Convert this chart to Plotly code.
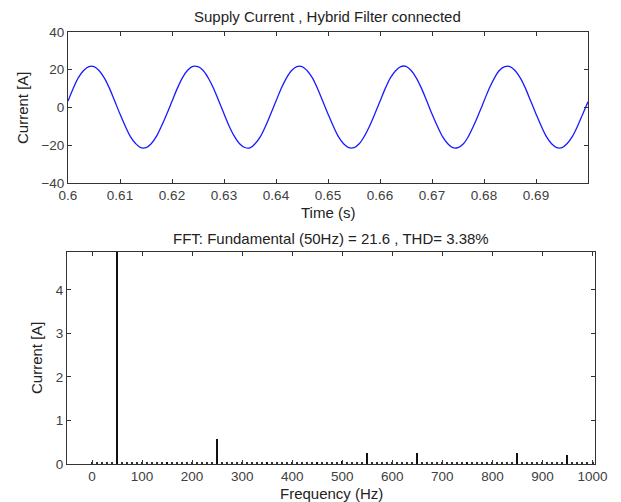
"""Supply current waveform and its FFT spectrum (hybrid filter connected)."""

import plotly.graph_objects as go
from plotly.subplots import make_subplots

# --- waveform, sampled every 1 ms from 0.600 s to 0.700 s ---
time_s = [round(0.6 + i * 0.001, 3) for i in range(101)]
current_a = [
    3.4, 10.1, 15.8, 19.6, 21.7, 21.7, 19.5, 15.6, 10.0, 3.3,
    -3.5, -9.8, -15.4, -19.1, -21.3, -21.3, -19.2, -15.3, -9.7, -3.4,
    3.3, 10.0, 15.7, 19.7, 21.8, 21.6, 19.6, 15.5, 10.1, 3.4,
    -3.3, -9.9, -15.3, -19.2, -21.2, -21.4, -19.1, -15.4, -9.8, -3.3,
    3.4, 10.1, 15.6, 19.6, 21.7, 21.7, 19.5, 15.7, 9.9, 3.3,
    -3.4, -9.8, -15.4, -19.2, -21.3, -21.3, -19.2, -15.2, -9.8, -3.4,
    3.3, 10.0, 15.7, 19.5, 21.7, 21.8, 19.6, 15.6, 10.0, 3.4,
    -3.5, -9.7, -15.3, -19.1, -21.3, -21.2, -19.3, -15.3, -9.7, -3.3,
    3.4, 10.1, 15.6, 19.7, 21.6, 21.7, 19.5, 15.6, 10.0, 3.3,
    -3.4, -9.8, -15.4, -19.2, -21.3, -21.3, -19.1, -15.3, -9.8, -3.4,
    3.0,
]

# --- spectrum ---
harmonic_hz = [50, 150, 250, 350, 450, 500, 550, 650, 750, 850, 950]
harmonic_amp = [21.6, 0.04, 0.57, 0.04, 0.04, 0.07, 0.26, 0.26, 0.04, 0.26, 0.21]
floor_hz = [f for f in range(0, 1001, 10) if f not in harmonic_hz]
floor_amp = 0.03

time_ticks = [0.6, 0.61, 0.62, 0.63, 0.64, 0.65, 0.66, 0.67, 0.68, 0.69]
time_tick_text = ['0.6', '0.61', '0.62', '0.63', '0.64', '0.65', '0.66', '0.67', '0.68', '0.69']
freq_ticks = [0, 100, 200, 300, 400, 500, 600, 700, 800, 900, 1000]

FONT = 'Liberation Sans, Arial, sans-serif'
OFF = 8  # page body margin
W, H = 621 - OFF, 502 - OFF


def px_x(p):
    return (p - OFF) / W


def px_y(p):
    return 1 - (p - OFF) / H


fig = make_subplots(rows=2, cols=1)

fig.add_trace(go.Scatter(
    x=time_s, y=current_a, mode='lines',
    line=dict(color='#1a1aff', width=1.3, shape='spline', smoothing=1.0),
    showlegend=False,
), row=1, col=1)

fig.add_trace(go.Bar(
    x=harmonic_hz, y=harmonic_amp, width=4,
    marker=dict(color='#111111', line=dict(width=0)),
    showlegend=False,
), row=2, col=1)
fig.add_trace(go.Bar(
    x=floor_hz, y=[floor_amp] * len(floor_hz), width=4,
    marker=dict(color='#333333', line=dict(width=0)),
    showlegend=False,
), row=2, col=1)

axis_style = dict(
    showline=True, mirror='ticks', linecolor='#333333', linewidth=1,
    ticks='inside', ticklen=4, tickcolor='#333333',
    showgrid=False, zeroline=False, automargin=False,
    tickfont=dict(family=FONT, size=13.5, color='#404040'),
)

fig.update_xaxes(axis_style)
fig.update_yaxes(axis_style)

fig.update_xaxes(range=[0.6, 0.7], tickvals=time_ticks, ticktext=time_tick_text,
                 domain=[px_x(68), px_x(588)], row=1, col=1)
fig.update_yaxes(range=[-40, 40], tickvals=[-40, -20, 0, 20, 40],
                 domain=[px_y(183), px_y(32)], row=1, col=1)
fig.update_xaxes(range=[-50, 1005], tickvals=freq_ticks,
                 domain=[px_x(67), px_x(595)], row=2, col=1)
fig.update_yaxes(range=[0, 4.87], tickvals=[0, 1, 2, 3, 4],
                 domain=[px_y(464), px_y(252)], row=2, col=1)

labels = [
    ('Supply Current , Hybrid Filter connected', 327, 16, 0),
    ('Time (s)', 328, 212, 0),
    ('FFT: Fundamental (50Hz) = 21.6 , THD= 3.38%', 331, 238, 0),
    ('Frequency (Hz)', 331, 493, 0),
    ('Current [A]', 22, 108, -90),
    ('Current [A]', 36, 358, -90),
]
for text, x, y, angle in labels:
    fig.add_annotation(
        text=text, x=px_x(x), y=px_y(y), xref='paper', yref='paper',
        xanchor='center', yanchor='middle',
        showarrow=False, textangle=angle,
        font=dict(family=FONT, size=15, color='#222222'),
    )

fig.update_layout(
    width=W, height=H,
    margin=dict(l=0, r=0, t=0, b=0),
    paper_bgcolor='white', plot_bgcolor='white',
    bargap=0,
)

fig.write_html('out.html')
